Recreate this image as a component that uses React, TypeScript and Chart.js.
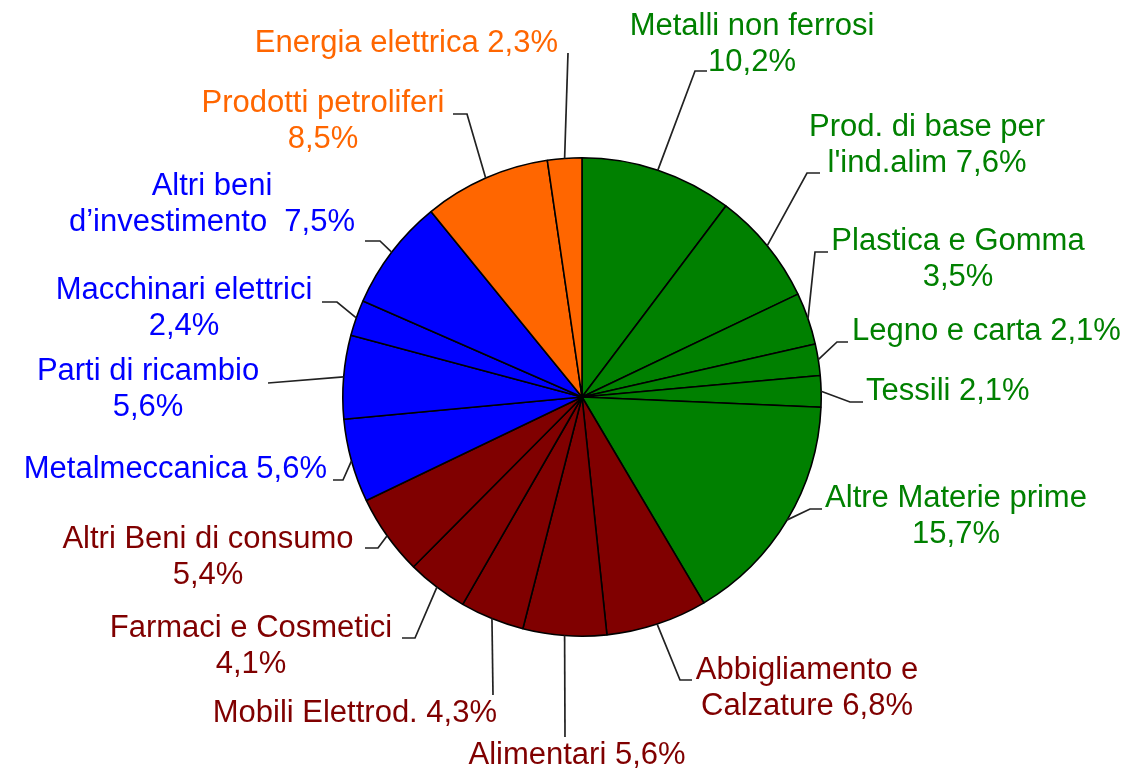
import React, { useEffect, useRef } from "react";
import { Chart, registerables } from "chart.js";

Chart.register(...registerables);

// ---- data ----
const categories = [
  "Metalli non ferrosi",
  "Prod. di base per l'ind.alim",
  "Plastica e Gomma",
  "Legno e carta",
  "Tessili",
  "Altre Materie prime",
  "Abbigliamento e Calzature",
  "Alimentari",
  "Mobili Elettrod.",
  "Farmaci e Cosmetici",
  "Altri Beni di consumo",
  "Metalmeccanica",
  "Parti di ricambio",
  "Macchinari elettrici",
  "Altri beni d’investimento",
  "Prodotti petroliferi",
  "Energia elettrica",
];

const values = [10.2, 7.6, 3.5, 2.1, 2.1, 15.7, 6.8, 5.6, 4.3, 4.1, 5.4, 5.6, 5.6, 2.4, 7.5, 8.5, 2.3];

const groups = [
  "raw", "raw", "raw", "raw", "raw", "raw",
  "cons", "cons", "cons", "cons", "cons",
  "inv", "inv", "inv", "inv",
  "energy", "energy",
];

// label text with line breaks; {v} is replaced with the formatted value
const labelTemplates = [
  "Metalli non ferrosi\n{v}",
  "Prod. di base per\nl'ind.alim {v}",
  "Plastica e Gomma\n{v}",
  "Legno e carta {v}",
  "Tessili {v}",
  "Altre Materie prime\n{v}",
  "Abbigliamento e\nCalzature {v}",
  "Alimentari {v}",
  "Mobili Elettrod. {v}",
  "Farmaci e Cosmetici\n{v}",
  "Altri Beni di consumo\n{v}",
  "Metalmeccanica {v}",
  "Parti di ricambio\n{v}",
  "Macchinari elettrici\n{v}",
  "Altri beni\nd’investimento  {v}",
  "Prodotti petroliferi\n{v}",
  "Energia elettrica {v}",
];

// ---- styles / layout ----
const groupColors: Record<string, string> = {
  raw: "#008000",
  cons: "#800000",
  inv: "#0000FF",
  energy: "#FF6600",
};

// label anchor (x, first baseline y, align) and leader elbow (ex, ey) + horizontal end hx
const labelLayout = [
  { x: 752, y: 35, align: "center", ex: 695, ey: 71, hx: 707 },
  { x: 927, y: 136, align: "center", ex: 807, ey: 173, hx: 820 },
  { x: 958, y: 250, align: "center", ex: 815, ey: 252, hx: 828 },
  { x: 852, y: 340, align: "left", ex: 837, ey: 342, hx: 848 },
  { x: 866, y: 400, align: "left", ex: 850, ey: 402, hx: 863 },
  { x: 956, y: 507, align: "center", ex: 810, ey: 509, hx: 822 },
  { x: 807, y: 679, align: "center", ex: 680, ey: 680, hx: 692 },
  { x: 577, y: 764, align: "center", ex: 565, ey: 737, hx: null },
  { x: 497, y: 722, align: "right", ex: 493, ey: 695, hx: null },
  { x: 251, y: 637, align: "center", ex: 415, ey: 638, hx: 402 },
  { x: 208, y: 548, align: "center", ex: 378, ey: 548, hx: 365 },
  { x: 327, y: 478, align: "right", ex: 343, ey: 480, hx: 333 },
  { x: 148, y: 380, align: "center", ex: 268, ey: 383, hx: null },
  { x: 184, y: 299, align: "center", ex: 337, ey: 302, hx: 322 },
  { x: 212, y: 195, align: "center", ex: 380, ey: 241, hx: 365 },
  { x: 323, y: 112, align: "center", ex: 467, ey: 114, hx: 453 },
  { x: 558, y: 52, align: "right", ex: 568, ey: 53, hx: null },
];

const FONT = "31px 'Liberation Sans', Arial, sans-serif";
const LINE_H = 36;

const fmt = (v: number) => v.toFixed(1).replace(".", ",") + "%";

const labelPlugin = {
  id: "outsideLabels",
  afterDraw(chart: any) {
    const ctx = chart.ctx;
    const meta = chart.getDatasetMeta(0);
    ctx.save();
    // leader lines
    ctx.strokeStyle = "#222222";
    ctx.lineWidth = 1.7;
    meta.data.forEach((arc: any, i: number) => {
      const p = arc.getProps(["x", "y", "startAngle", "endAngle", "outerRadius"], true);
      const mid = (p.startAngle + p.endAngle) / 2;
      const sx = p.x + Math.cos(mid) * p.outerRadius;
      const sy = p.y + Math.sin(mid) * p.outerRadius;
      const L = labelLayout[i];
      ctx.beginPath();
      ctx.moveTo(sx, sy);
      ctx.lineTo(L.ex, L.ey);
      if (L.hx !== null) ctx.lineTo(L.hx, L.ey);
      ctx.stroke();
    });
    // texts
    ctx.font = FONT;
    ctx.textBaseline = "alphabetic";
    labelTemplates.forEach((tpl, i) => {
      const L = labelLayout[i];
      const lines = tpl.replace("{v}", fmt(values[i])).split("\n");
      ctx.fillStyle = groupColors[groups[i]];
      ctx.textAlign = L.align as CanvasTextAlign;
      lines.forEach((ln, k) => ctx.fillText(ln, L.x, L.y + k * LINE_H));
    });
    ctx.restore();
  },
};

export default function App() {
  const ref = useRef<HTMLCanvasElement | null>(null);
  useEffect(() => {
    if (!ref.current) return;
    const chart = new Chart(ref.current, {
      type: "pie",
      data: {
        labels: categories,
        datasets: [
          {
            data: values,
            backgroundColor: groups.map((g) => groupColors[g]),
            borderColor: "#000000",
            borderWidth: 1.6,
          },
        ],
      },
      options: {
        responsive: false,
        animation: false,
        layout: { padding: { left: 342, right: 320, top: 157, bottom: 136 } },
        plugins: {
          legend: { display: false },
          tooltip: { enabled: false },
        },
      },
      plugins: [labelPlugin],
    });
    return () => chart.destroy();
  }, []);
  return (
    <div style={{ position: "absolute", left: 0, top: 0, width: 1142, height: 773, background: "#fff" }}>
      <canvas ref={ref} width={1142} height={773} />
    </div>
  );
}
